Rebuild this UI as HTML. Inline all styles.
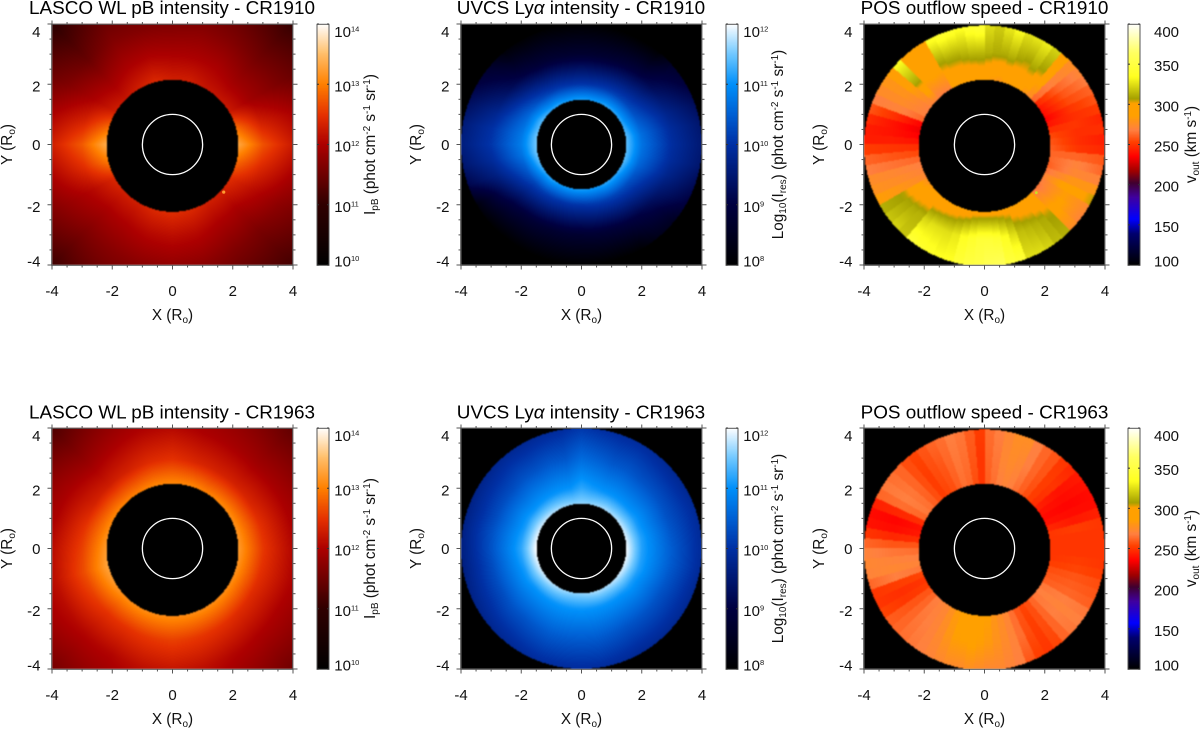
<!DOCTYPE html>
<html lang="en">
<head>
<meta charset="utf-8">
<title>Coronal intensity and outflow speed maps, CR1910 and CR1963</title>
<style>
html,body{margin:0;padding:0;background:#fff;}
#chart{position:relative;width:1200px;height:729px;overflow:hidden;background:#fff;}
#chart canvas{position:absolute;display:block;}
#chart canvas.map{width:241px;height:241px;filter:blur(0.45px);}
#chart canvas.bar{width:12px;height:241px;}
#overlay{position:absolute;left:0;top:0;}
#overlay text{font-family:"Liberation Sans",sans-serif;font-size:15px;fill:#111;}
#overlay text.title{font-size:18.9px;text-anchor:middle;fill:#000;}
#overlay text.mid{text-anchor:middle;font-size:15.3px;}
</style>
</head>
<body>
<div id="chart">
  <canvas class="map" id="map-a" width="241" height="241" style="left:52px;top:24px"></canvas>
  <canvas class="map" id="map-b" width="241" height="241" style="left:461px;top:24px"></canvas>
  <canvas class="map" id="map-c" width="241" height="241" style="left:864px;top:24px"></canvas>
  <canvas class="map" id="map-d" width="241" height="241" style="left:52px;top:428px"></canvas>
  <canvas class="map" id="map-e" width="241" height="241" style="left:461px;top:428px"></canvas>
  <canvas class="map" id="map-f" width="241" height="241" style="left:864px;top:428px"></canvas>
  <canvas class="bar" id="bar-a" width="12" height="241" style="left:317px;top:24px"></canvas>
  <canvas class="bar" id="bar-b" width="12" height="241" style="left:726px;top:24px"></canvas>
  <canvas class="bar" id="bar-c" width="12" height="241" style="left:1128px;top:24px"></canvas>
  <canvas class="bar" id="bar-d" width="12" height="241" style="left:317px;top:428px"></canvas>
  <canvas class="bar" id="bar-e" width="12" height="241" style="left:726px;top:428px"></canvas>
  <canvas class="bar" id="bar-f" width="12" height="241" style="left:1128px;top:428px"></canvas>

  <svg id="overlay" width="1200" height="729" viewBox="0 0 1200 729" xmlns="http://www.w3.org/2000/svg">
    <g id="panel-a" transform="translate(52,24)">
      <text class="title" x="120" y="-10">LASCO WL pB intensity - CR1910</text>
      <text class="mid" x="120.5" y="296">X (R<tspan dy="3" font-size="10">o</tspan><tspan dy="-3">)</tspan></text>
      <text class="mid" transform="translate(-40,120.5) rotate(-90)">Y (R<tspan dy="3" font-size="10">o</tspan><tspan dy="-3">)</tspan></text>
      <text class="mid" transform="translate(323,120.5) rotate(-90)">I<tspan dy="3" font-size="10">pB</tspan><tspan dy="-3"> (phot cm</tspan><tspan dy="-5" font-size="10">-2</tspan><tspan dy="5"> s</tspan><tspan dy="-5" font-size="10">-1</tspan><tspan dy="5"> sr</tspan><tspan dy="-5" font-size="10">-1</tspan><tspan dy="5">)</tspan></text>
    </g>
    <g id="panel-b" transform="translate(461,24)">
      <text class="title" x="120" y="-10">UVCS Ly<tspan font-style="italic">α</tspan> intensity - CR1910</text>
      <text class="mid" x="120.5" y="296">X (R<tspan dy="3" font-size="10">o</tspan><tspan dy="-3">)</tspan></text>
      <text class="mid" transform="translate(-40,120.5) rotate(-90)">Y (R<tspan dy="3" font-size="10">o</tspan><tspan dy="-3">)</tspan></text>
      <text class="mid" transform="translate(322,120.5) rotate(-90)">Log<tspan dy="3" font-size="10">10</tspan><tspan dy="-3">(I</tspan><tspan dy="3" font-size="10">res</tspan><tspan dy="-3">) (phot cm</tspan><tspan dy="-5" font-size="10">-2</tspan><tspan dy="5"> s</tspan><tspan dy="-5" font-size="10">-1</tspan><tspan dy="5"> sr</tspan><tspan dy="-5" font-size="10">-1</tspan><tspan dy="5">)</tspan></text>
    </g>
    <g id="panel-c" transform="translate(864,24)">
      <text class="title" x="120.5" y="-10">POS outflow speed - CR1910</text>
      <text class="mid" x="120.5" y="296">X (R<tspan dy="3" font-size="10">o</tspan><tspan dy="-3">)</tspan></text>
      <text class="mid" transform="translate(-40,120.5) rotate(-90)">Y (R<tspan dy="3" font-size="10">o</tspan><tspan dy="-3">)</tspan></text>
      <text class="mid" transform="translate(332,120.5) rotate(-90)">v<tspan dy="3" font-size="10">out</tspan><tspan dy="-3"> (km s</tspan><tspan dy="-5" font-size="10">-1</tspan><tspan dy="5">)</tspan></text>
    </g>
    <g id="panel-d" transform="translate(52,428)">
      <text class="title" x="120" y="-9.3">LASCO WL pB intensity - CR1963</text>
      <text class="mid" x="120.5" y="296">X (R<tspan dy="3" font-size="10">o</tspan><tspan dy="-3">)</tspan></text>
      <text class="mid" transform="translate(-40,120.5) rotate(-90)">Y (R<tspan dy="3" font-size="10">o</tspan><tspan dy="-3">)</tspan></text>
      <text class="mid" transform="translate(323,120.5) rotate(-90)">I<tspan dy="3" font-size="10">pB</tspan><tspan dy="-3"> (phot cm</tspan><tspan dy="-5" font-size="10">-2</tspan><tspan dy="5"> s</tspan><tspan dy="-5" font-size="10">-1</tspan><tspan dy="5"> sr</tspan><tspan dy="-5" font-size="10">-1</tspan><tspan dy="5">)</tspan></text>
    </g>
    <g id="panel-e" transform="translate(461,428)">
      <text class="title" x="120" y="-9.3">UVCS Ly<tspan font-style="italic">α</tspan> intensity - CR1963</text>
      <text class="mid" x="120.5" y="296">X (R<tspan dy="3" font-size="10">o</tspan><tspan dy="-3">)</tspan></text>
      <text class="mid" transform="translate(-40,120.5) rotate(-90)">Y (R<tspan dy="3" font-size="10">o</tspan><tspan dy="-3">)</tspan></text>
      <text class="mid" transform="translate(322,120.5) rotate(-90)">Log<tspan dy="3" font-size="10">10</tspan><tspan dy="-3">(I</tspan><tspan dy="3" font-size="10">res</tspan><tspan dy="-3">) (phot cm</tspan><tspan dy="-5" font-size="10">-2</tspan><tspan dy="5"> s</tspan><tspan dy="-5" font-size="10">-1</tspan><tspan dy="5"> sr</tspan><tspan dy="-5" font-size="10">-1</tspan><tspan dy="5">)</tspan></text>
    </g>
    <g id="panel-f" transform="translate(864,428)">
      <text class="title" x="120.5" y="-9.3">POS outflow speed - CR1963</text>
      <text class="mid" x="120.5" y="296">X (R<tspan dy="3" font-size="10">o</tspan><tspan dy="-3">)</tspan></text>
      <text class="mid" transform="translate(-40,120.5) rotate(-90)">Y (R<tspan dy="3" font-size="10">o</tspan><tspan dy="-3">)</tspan></text>
      <text class="mid" transform="translate(332,120.5) rotate(-90)">v<tspan dy="3" font-size="10">out</tspan><tspan dy="-3"> (km s</tspan><tspan dy="-5" font-size="10">-1</tspan><tspan dy="5">)</tspan></text>
    </g>
  </svg>
</div>

<script>
/* ---------- axis values ---------- */
const majorTicks = [-4, -2, 0, 2, 4];
const minorTicks = [-3.5, -3, -2.5, -1.5, -1, -0.5, 0.5, 1, 1.5, 2.5, 3, 3.5];
const pbDecades = [10, 11, 12, 13, 14];
const lyaDecades = [8, 9, 10, 11, 12];
const speedTicks = [100, 150, 200, 250, 300, 350, 400];

/* ---------- LASCO pB: log10 intensity, 24 position angles (every 15 deg from +X, CCW) ---------- */
const pbRadii = [2.2, 3, 4, 5.66];
const pb1910AtR22 = [13.3,12.85,12.25,12.2,12.2,12.3,12.3,12.4,12.3,12.2,12.3,12.85,13.35,12.95,12.4,12.3,12.3,12.4,12.45,12.4,12.3,12.3,12.45,12.85];
const pb1910AtR30 = [12.7,12.3,11.9,11.88,11.98,12.0,12.0,12.03,11.98,11.88,12.0,12.35,12.75,12.45,12.08,11.98,12.0,12.08,12.12,12.08,11.98,11.95,12.12,12.4];
const pb1910AtR40 = [12.25,12.02,11.62,11.55,11.65,11.7,11.65,11.65,11.65,11.45,11.65,12.02,12.3,12.05,11.8,11.65,11.7,11.75,11.78,11.75,11.65,11.6,11.75,12.0];
const pb1910AtR57 = [11.4,11.4,11.2,11.05,11.2,11.3,11.3,11.3,11.2,10.95,11.2,11.4,11.4,11.4,11.3,11.1,11.3,11.3,11.3,11.3,11.2,11.15,11.3,11.4];
const pb1963AtR22 = [13.2,13.15,13.1,13.05,13.0,13.05,13.05,13.05,13.0,13.0,13.05,13.1,13.2,13.3,13.2,13.1,13.1,13.1,13.1,13.1,13.1,13.1,13.1,13.15];
const pb1963AtR30 = [12.53,12.48,12.38,12.33,12.33,12.38,12.48,12.43,12.33,12.28,12.33,12.48,12.58,12.68,12.58,12.48,12.48,12.53,12.58,12.53,12.48,12.43,12.43,12.48];
const pb1963AtR40 = [12.05,12.0,11.95,11.9,11.95,12.0,12.1,12.05,11.95,11.85,11.95,12.0,12.1,12.15,12.1,12.05,12.05,12.15,12.2,12.15,12.05,12.0,12.0,12.05];
const pb1963AtR57 = [11.55,11.55,11.45,11.4,11.55,11.65,11.65,11.55,11.45,11.25,11.45,11.55,11.55,11.6,11.65,11.55,11.65,11.7,11.7,11.7,11.6,11.5,11.55,11.55];

/* ---------- UVCS Ly-alpha: log10 intensity, 36 position angles (every 10 deg) ---------- */
const lyaRadii = [1.5, 2, 3, 4];
const lya1910AtR15 = [11.4,11.4,11.3,11.2,11.2,11.2,11.2,11.1,11.1,11.1,11.1,11.1,11.2,11.2,11.3,11.4,11.4,11.5,11.5,11.5,11.4,11.3,11.2,11.2,11.1,11.1,11.1,11.1,11.1,11.1,11.2,11.2,11.2,11.3,11.4,11.4];
const lya1910AtR20 = [10.7,10.65,10.5,10.35,10.25,10.2,10.15,10.1,10.05,10.05,10.05,10.1,10.15,10.25,10.4,10.55,10.65,10.75,10.8,10.7,10.5,10.35,10.2,10.15,10.1,10.05,10.05,10.05,10.1,10.15,10.2,10.25,10.3,10.4,10.55,10.65];
const lya1910AtR30 = [9.95,9.9,9.75,9.5,9.2,9.0,8.9,8.8,8.75,8.75,8.75,8.8,8.85,9.0,9.2,9.5,9.8,10.0,10.05,9.9,9.65,9.3,9.0,8.85,8.8,8.75,8.75,8.75,8.8,8.85,8.95,9.05,9.25,9.5,9.75,9.9];
const lya1910AtR40 = [9.5,9.45,9.25,8.95,8.7,8.05,8.0,8.0,8.0,8.0,8.0,8.05,8.05,8.15,8.7,9.0,9.3,9.55,9.6,9.45,9.1,8.2,8.05,8.0,8.0,8.0,8.0,8.0,8.0,8.0,8.05,8.4,8.5,8.95,9.2,9.45];
const lya1963AtR15 = [11.95,11.9,11.85,11.8,11.75,11.7,11.7,11.65,11.6,11.6,11.6,11.65,11.7,11.75,11.8,11.85,11.9,11.95,12,11.95,11.9,11.85,11.8,11.75,11.7,11.65,11.6,11.6,11.65,11.7,11.7,11.75,11.8,11.85,11.9,11.95];
const lya1963AtR20 = [11.15,11.15,11.1,11.1,11.05,11.05,11.05,11.05,11.1,11.2,11.05,11.05,11.05,11.05,11.05,11.1,11.1,11.15,11.2,11.15,11.1,11.1,11.05,11.05,11.05,11.05,11.05,11.05,11.05,11.05,11.05,11.05,11.1,11.1,11.15,11.15];
const lya1963AtR30 = [10.45,10.4,10.35,10.35,10.35,10.35,10.4,10.4,10.5,10.6,10.4,10.4,10.35,10.35,10.3,10.3,10.3,10.35,10.35,10.3,10.3,10.3,10.35,10.35,10.4,10.45,10.45,10.45,10.45,10.4,10.35,10.35,10.35,10.35,10.4,10.45];
const lya1963AtR40 = [9.87,9.87,9.87,9.82,9.82,9.87,9.92,9.92,9.97,10.07,9.92,9.87,9.82,9.82,9.77,9.72,9.67,9.67,9.62,9.62,9.67,9.72,9.77,9.82,9.87,9.92,9.92,9.92,9.92,9.87,9.82,9.82,9.82,9.82,9.82,9.87];

/* ---------- outflow speed, km/s: 72 sectors (every 5 deg from +X, CCW) ---------- */
const speedRadii = [2.2, 3.1, 4];
const speed1910Inner = [258,255,248,240,235,238,240,245,262,275,280,285,290,285,283,280,282,285,288,285,285,285,285,285,270,268,268,270,270,268,268,262,235,232,235,240,248,255,262,268,270,272,278,282,285,285,285,285,288,290,292,292,295,295,295,295,295,295,292,290,290,285,285,268,265,268,270,265,260,262,262,260];
const speed1910Middle = [248,248,250,248,250,255,258,262,270,294,306,310,306,308,312,310,310,312,314,314,312,310,310,308,292,294,292,310,285,278,275,270,248,240,240,243,250,258,265,272,275,280,306,308,310,312,322,325,325,325,328,335,340,345,345,342,335,325,316,314,312,310,306,290,288,285,292,280,272,270,262,250];
const speed1910Outer = [243,248,245,252,258,262,268,272,276,296,322,330,328,326,334,328,320,325,345,342,336,340,342,338,295,296,295,335,285,280,275,268,258,248,243,243,252,262,268,275,278,285,312,318,322,318,345,340,338,335,335,345,350,352,358,360,348,345,325,325,322,315,312,275,270,272,305,280,270,262,258,246];
const speed1963Inner = [250,250,250,246,240,238,240,244,248,252,256,260,264,268,270,268,264,260,250,256,262,264,260,256,254,252,256,260,264,266,262,248,240,242,248,258,264,268,270,266,254,250,252,258,262,268,270,272,278,284,288,290,292,288,286,280,276,272,264,258,254,256,262,266,268,266,260,258,256,252,250,250];
const speed1963Middle = [250,250,252,242,238,236,238,240,250,252,258,262,268,272,274,272,266,262,250,258,264,266,262,258,256,252,256,262,266,268,264,246,236,238,246,258,266,270,272,268,252,248,250,258,262,266,268,270,274,280,285,286,288,285,282,278,274,270,264,256,252,256,262,268,270,268,262,260,258,254,252,250];
const speed1963Outer = [250,250,250,244,238,238,240,242,246,250,258,262,268,276,276,272,268,264,252,260,266,268,264,262,258,254,256,262,264,266,262,244,238,240,250,262,270,272,270,262,250,250,254,260,262,264,266,268,270,272,274,274,276,274,272,272,270,268,258,252,250,254,262,266,268,266,260,258,256,252,250,250];

/* ---------- small bright features ---------- */
const pbSpotX = [1.7];
const pbSpotY = [-1.58];
const speedSpotX = [1.72];
const speedSpotY = [-1.6];

/* ---------- colour maps ---------- */
const redMap = [[0,0,0,0],[0.25,48,0,0],[0.5,172,0,0],[0.62,228,48,0],[0.75,255,128,0],[0.875,255,190,104],[1,255,255,255]];
const blueMap = [[0,0,0,0],[0.25,0,0,64],[0.5,0,48,164],[0.625,0,96,212],[0.75,0,144,250],[0.875,112,200,255],[1,255,255,255]];
const fireMap = [[0,0,0,0],[0.13,0,0,110],[0.19,0,0,255],[0.28,64,0,160],[0.34,64,0,48],[0.39,160,0,0],[0.45,255,0,0],[0.51,255,64,0],[0.56,255,128,64],[0.62,255,160,0],[0.67,255,160,0],[0.69,165,160,0],[0.78,255,255,32],[0.88,255,255,96],[1,255,255,255]];

function shade(map, t) {
  t = Math.max(0, Math.min(1, t));
  for (let i = 1; i < map.length; i++) {
    if (t <= map[i][0]) {
      const a = map[i - 1], b = map[i], f = (t - a[0]) / (b[0] - a[0]);
      return [a[1] + f * (b[1] - a[1]), a[2] + f * (b[2] - a[2]), a[3] + f * (b[3] - a[3])];
    }
  }
  return [255, 255, 255];
}

/* ---------- axis functions: data units to pixels inside a 241 px plot ---------- */
const plotSize = 241;
const xScale = v => (v + 4) / 8 * plotSize;
const yScale = v => (4 - v) / 8 * plotSize;
const xInvert = p => p / plotSize * 8 - 4;
const yInvert = p => 4 - p / plotSize * 8;

/* ---------- radial / azimuth samplers ---------- */
function radialIndex(radii, r) {
  let k = 0;
  while (k < radii.length - 2 && r > radii[k + 1]) k++;
  return [k, Math.min(1, Math.max(0, (r - radii[k]) / (radii[k + 1] - radii[k])))];
}
function sampleSmooth(tables, radii, r, az) {
  const [k, f] = radialIndex(radii, r);
  const n = tables[0].length, pos = az / 360 * n, i = Math.floor(pos) % n, j = (i + 1) % n, g = pos - Math.floor(pos);
  const a = tables[k][i] * (1 - g) + tables[k][j] * g;
  const b = tables[k + 1][i] * (1 - g) + tables[k + 1][j] * g;
  return a * (1 - f) + b * f;
}
function sampleSector(tables, radii, r, az) {
  const [k, f] = radialIndex(radii, r);
  const n = tables[0].length, i = Math.floor(az / 360 * n) % n;
  return tables[k][i] * (1 - f) + tables[k + 1][i] * f;
}

function paintMap(id, opts) {
  const ctx = document.getElementById(id).getContext('2d');
  const img = ctx.createImageData(plotSize, plotSize);
  for (let py = 0; py < plotSize; py++) {
    for (let px = 0; px < plotSize; px++) {
      const X = xInvert(px + 0.5), Y = yInvert(py + 0.5) + opts.occCenterY;
      const r = Math.hypot(X, Y);
      const o = (py * plotSize + px) * 4;
      img.data[o + 3] = 255;
      if (r < opts.occRadius || r > opts.outer) continue;
      let az = Math.atan2(yInvert(py + 0.5), X) * 180 / Math.PI;
      if (az < 0) az += 360;
      const v = opts.sample(opts.tables, opts.radii, r, az);
      const c = shade(opts.map, (v - opts.min) / (opts.max - opts.min));
      img.data[o] = c[0];
      img.data[o + 1] = c[1];
      img.data[o + 2] = c[2];
    }
  }
  ctx.putImageData(img, 0, 0);
}

function paintBar(id, map) {
  const ctx = document.getElementById(id).getContext('2d');
  for (let py = 0; py < plotSize; py++) {
    const c = shade(map, 1 - (py + 0.5) / plotSize);
    ctx.fillStyle = 'rgb(' + Math.round(c[0]) + ',' + Math.round(c[1]) + ',' + Math.round(c[2]) + ')';
    ctx.fillRect(0, py, 12, 1);
  }
}

/* ---------- svg helpers ---------- */
const SVG_NS = 'http://www.w3.org/2000/svg';
function addLine(group, x1, y1, x2, y2, color, width, name) {
  const el = document.createElementNS(SVG_NS, 'line');
  el.setAttribute('x1', x1);
  el.setAttribute('y1', y1);
  el.setAttribute('x2', x2);
  el.setAttribute('y2', y2);
  el.setAttribute('stroke', color);
  el.setAttribute('stroke-width', width);
  
  
  group.appendChild(el);
  return el;
}
function addLabel(group, x, y, anchor, str, name) {
  const el = document.createElementNS(SVG_NS, 'text');
  el.setAttribute('x', x);
  el.setAttribute('y', y);
  el.setAttribute('text-anchor', anchor);
  
  
  el.textContent = str;
  group.appendChild(el);
  return el;
}
function addFrame(group, x, y, w, h, name) {
  const el = document.createElementNS(SVG_NS, 'rect');
  el.setAttribute('x', x);
  el.setAttribute('y', y);
  el.setAttribute('width', w);
  el.setAttribute('height', h);
  el.setAttribute('fill', 'none');
  el.setAttribute('stroke', '#555');
  el.setAttribute('stroke-width', '1');
  
  
  group.appendChild(el);
  return el;
}
function addCircle(group, cx, cy, r, fill, stroke, width, name) {
  const el = document.createElementNS(SVG_NS, 'circle');
  el.setAttribute('cx', cx);
  el.setAttribute('cy', cy);
  el.setAttribute('r', r);
  el.setAttribute('fill', fill);
  el.setAttribute('stroke', stroke);
  el.setAttribute('stroke-width', width);
  
  
  group.appendChild(el);
  return el;
}

function labelShift(v, lo, hi) {
  if (v === hi) return 13;
  if (v === lo) return 1.5;
  return 7;
}

function drawAxes(group) {
  const tickColor = '#555';
  addFrame(group, -0.3, 0.3, plotSize, plotSize, 'plot-frame');
  majorTicks.forEach(v => {
    addLine(group, xScale(v), plotSize, xScale(v), plotSize + 4.5, tickColor, 1, 'x-major-tick');
    addLine(group, xScale(v), 0, xScale(v), -3.5, tickColor, 1, 'x-major-tick-top');
    addLine(group, 0, yScale(v), -4.5, yScale(v), tickColor, 1, 'y-major-tick');
    addLine(group, plotSize, yScale(v), plotSize + 4.5, yScale(v), tickColor, 1, 'y-major-tick-right');
    addLabel(group, xScale(v), 272, 'middle', String(v), 'x-tick-label');
    addLabel(group, -11.5, yScale(v) + (v === 0 ? 5.5 : labelShift(v, -4, 4)), 'end', String(v), 'y-tick-label');
  });
  minorTicks.forEach(v => {
    addLine(group, xScale(v), plotSize, xScale(v), plotSize + 2.5, tickColor, 1, 'x-minor-tick');
    addLine(group, xScale(v), 0, xScale(v), -2, tickColor, 1, 'x-minor-tick-top');
    addLine(group, 0, yScale(v), -2.5, yScale(v), tickColor, 1, 'y-minor-tick');
    addLine(group, plotSize, yScale(v), plotSize + 2.5, yScale(v), tickColor, 1, 'y-minor-tick-right');
  });
  addCircle(group, xScale(0), yScale(0), xScale(1) - xScale(0), 'none', '#fff', 1.3, 'solar-limb-circle');
}

function drawBarAxis(group, barX, ticks, lo, hi, labelX, isLog) {
  addFrame(group, barX, 0.3, 12, plotSize, 'colorbar-frame');
  ticks.forEach(v => {
    const y = (hi - v) / (hi - lo) * plotSize;
    addLine(group, barX, y, barX + 2, y, '#333', 1, 'colorbar-tick');
    addLine(group, barX + 12, y, barX + 10, y, '#333', 1, 'colorbar-tick');
    const label = addLabel(group, labelX, y + labelShift(v, lo, hi), 'start', isLog ? '10' : String(v), 'colorbar-tick-label');
    if (isLog) {
      const sup = document.createElementNS(SVG_NS, 'tspan');
      sup.setAttribute('dy', '-5.5');
      sup.setAttribute('font-size', '7.5');
      sup.textContent = String(v);
      label.appendChild(sup);
    }
  });
}

/* ---------- build the six panels ---------- */
const occLasco = 2.19, occUvcs = 1.49;
const pb1910 = [pb1910AtR22, pb1910AtR30, pb1910AtR40, pb1910AtR57];
const pb1963 = [pb1963AtR22, pb1963AtR30, pb1963AtR40, pb1963AtR57];
const lya1910 = [lya1910AtR15, lya1910AtR20, lya1910AtR30, lya1910AtR40];
const lya1963 = [lya1963AtR15, lya1963AtR20, lya1963AtR30, lya1963AtR40];
const sp1910 = [speed1910Inner, speed1910Middle, speed1910Outer];
const sp1963 = [speed1963Inner, speed1963Middle, speed1963Outer];

paintMap('map-a', {tables: pb1910, radii: pbRadii, sample: sampleSmooth, map: redMap, min: 10, max: 14, occRadius: occLasco, occCenterY: 0.045, outer: 99});
paintMap('map-d', {tables: pb1963, radii: pbRadii, sample: sampleSmooth, map: redMap, min: 10, max: 14, occRadius: occLasco, occCenterY: 0.045, outer: 99});
paintMap('map-b', {tables: lya1910, radii: lyaRadii, sample: sampleSmooth, map: blueMap, min: 8, max: 12, occRadius: occUvcs, occCenterY: 0, outer: 4});
paintMap('map-e', {tables: lya1963, radii: lyaRadii, sample: sampleSmooth, map: blueMap, min: 8, max: 12, occRadius: occUvcs, occCenterY: 0, outer: 4});
paintMap('map-c', {tables: sp1910, radii: speedRadii, sample: sampleSector, map: fireMap, min: 100, max: 400, occRadius: occLasco, occCenterY: 0.045, outer: 4});
paintMap('map-f', {tables: sp1963, radii: speedRadii, sample: sampleSector, map: fireMap, min: 100, max: 400, occRadius: occLasco, occCenterY: 0.045, outer: 4});

paintBar('bar-a', redMap);
paintBar('bar-d', redMap);
paintBar('bar-b', blueMap);
paintBar('bar-e', blueMap);
paintBar('bar-c', fireMap);
paintBar('bar-f', fireMap);

['panel-a', 'panel-b', 'panel-c', 'panel-d', 'panel-e', 'panel-f'].forEach(id => drawAxes(document.getElementById(id)));

drawBarAxis(document.getElementById('panel-a'), 265, pbDecades, 10, 14, 282.3, true);
drawBarAxis(document.getElementById('panel-d'), 265, pbDecades, 10, 14, 282.3, true);
drawBarAxis(document.getElementById('panel-b'), 265, lyaDecades, 8, 12, 282.3, true);
drawBarAxis(document.getElementById('panel-e'), 265, lyaDecades, 8, 12, 282.3, true);
drawBarAxis(document.getElementById('panel-c'), 264, speedTicks, 100, 400, 290, false);
drawBarAxis(document.getElementById('panel-f'), 264, speedTicks, 100, 400, 290, false);

pbSpotX.forEach((x, i) => addCircle(document.getElementById('panel-a'), xScale(x), yScale(pbSpotY[i]), 1.6, '#ff9a30', 'none', 0, 'bright-feature'));
speedSpotX.forEach((x, i) => addCircle(document.getElementById('panel-c'), xScale(x), yScale(speedSpotY[i]), 1.4, '#c8e020', 'none', 0, 'speed-feature'));
</script>
</body>
</html>
